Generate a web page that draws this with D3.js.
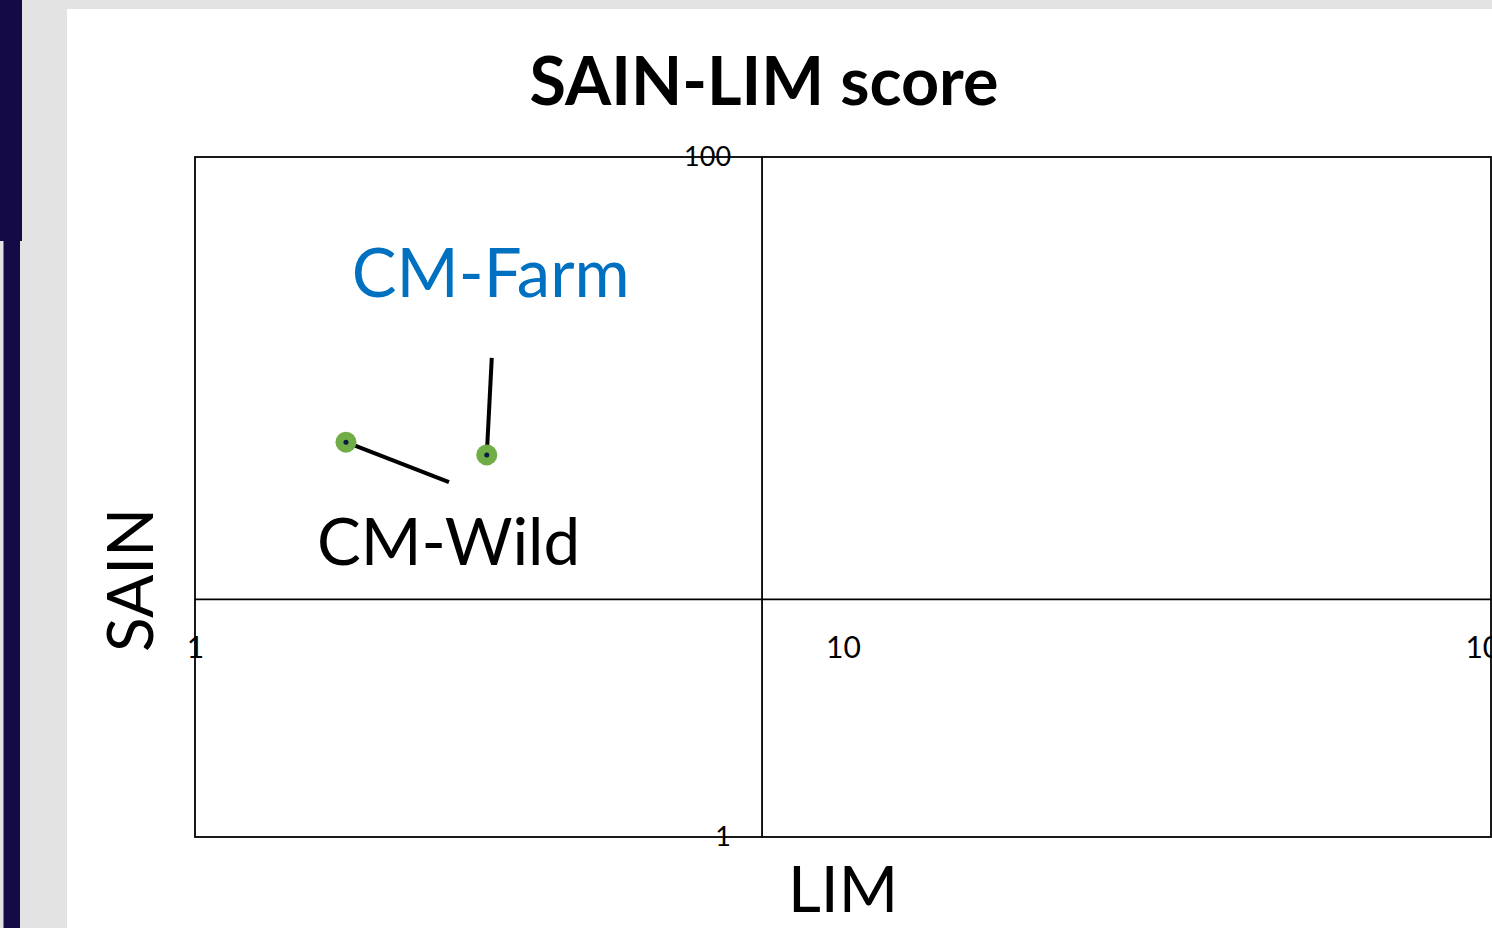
<!DOCTYPE html>
<html>
<head>
<meta charset="utf-8">
<script src="https://cdn.jsdelivr.net/npm/d3@7"></script>
<style>
  html, body { margin: 0; padding: 0; background: #e3e3e3; }
  svg { display: block; }
</style>
</head>
<body>
<svg class="chart"></svg>
<script>
const WIDTH = 1492;
const HEIGHT = 928;

// data
const products = ['CM-Wild', 'CM-Farm'];
const limValues = [1.71, 2.82];
const sainValues = [14.5, 13.3];
const labelColors = ['#000000', '#0070c0'];

const xTicks = [1, 10, 100];
const yTicks = [1, 100];
const limThreshold = 7.5;
const sainThreshold = 5;

const FONT = 'Lato, "Open Sans", sans-serif';
const POINT_COLOR = '#70ad47';

const svg = d3.select('.chart')
  .attr('width', WIDTH)
  .attr('height', HEIGHT);

// slide background pieces
svg.append('rect').attr('x', 0).attr('y', 0).attr('width', WIDTH).attr('height', HEIGHT).attr('fill', '#e3e3e3');
svg.append('rect').attr('x', 67).attr('y', 9).attr('width', WIDTH - 67).attr('height', HEIGHT - 9).attr('fill', '#ffffff');
svg.append('rect').attr('x', 0).attr('y', 0).attr('width', 22).attr('height', 241).attr('fill', '#140a45');
svg.append('rect').attr('x', 3.5).attr('y', 241).attr('width', 16.5).attr('height', HEIGHT - 241).attr('fill', '#140a45');

const plot = { left: 195, right: 1491, top: 157, bottom: 837 };

const x = d3.scaleLog().domain([1, 100]).range([plot.left, plot.right]);
const y = d3.scaleLog().domain([1, 100]).range([plot.bottom, plot.top]);

const g = svg.append('g');

// frame
g.append('rect')
  .attr('x', plot.left)
  .attr('y', plot.top)
  .attr('width', plot.right - plot.left)
  .attr('height', plot.bottom - plot.top)
  .attr('fill', 'none')
  .attr('stroke', '#000')
  .attr('stroke-width', 1.8);

// threshold axes
g.append('line')
  .attr('x1', x(limThreshold)).attr('x2', x(limThreshold))
  .attr('y1', plot.top).attr('y2', plot.bottom)
  .attr('stroke', '#000').attr('stroke-width', 1.8);

g.append('line')
  .attr('x1', plot.left).attr('x2', plot.right)
  .attr('y1', y(sainThreshold)).attr('y2', y(sainThreshold))
  .attr('stroke', '#000').attr('stroke-width', 1.8);

// x tick labels
const xAxis = d3.axisBottom(x).tickValues(xTicks).tickSize(0).tickFormat(d3.format('d'));
const xg = g.append('g')
  .attr('transform', `translate(0,${y(sainThreshold) + 34})`)
  .call(xAxis);
xg.select('.domain').remove();
xg.selectAll('text')
  .attr('font-family', FONT)
  .attr('font-size', 30)
  .attr('fill', '#000');

// y tick labels
const yAxis = d3.axisLeft(y).tickValues(yTicks).tickSize(0).tickFormat(d3.format('d'));
const yg = g.append('g')
  .attr('transform', `translate(${x(limThreshold) - 28},0)`)
  .call(yAxis);
yg.select('.domain').remove();
yg.selectAll('text')
  .attr('font-family', FONT)
  .attr('font-size', 27)
  .attr('fill', '#000');

// leader lines and labels
const labelOffsets = [[103, 40], [5, -97]];
const textOffsets = [[-29, 123], [4, -158]];

g.selectAll('.leader')
  .data(products)
  .enter()
  .append('line')
  .attr('class', 'leader')
  .attr('x1', (d, i) => x(limValues[i]))
  .attr('y1', (d, i) => y(sainValues[i]))
  .attr('x2', (d, i) => x(limValues[i]) + labelOffsets[i][0])
  .attr('y2', (d, i) => y(sainValues[i]) + labelOffsets[i][1])
  .attr('stroke', '#000')
  .attr('stroke-width', 4);

g.selectAll('.point')
  .data(products)
  .enter()
  .append('circle')
  .attr('class', 'point')
  .attr('cx', (d, i) => x(limValues[i]))
  .attr('cy', (d, i) => y(sainValues[i]))
  .attr('r', 10.5)
  .attr('fill', POINT_COLOR);

g.selectAll('.leader-top')
  .data(products)
  .enter()
  .append('circle')
  .attr('cx', (d, i) => x(limValues[i]))
  .attr('cy', (d, i) => y(sainValues[i]))
  .attr('r', 2.5)
  .attr('fill', '#0a1a40');

g.selectAll('.label')
  .data(products)
  .enter()
  .append('text')
  .attr('class', 'label')
  .attr('x', (d, i) => x(limValues[i]) + textOffsets[i][0])
  .attr('y', (d, i) => y(sainValues[i]) + textOffsets[i][1])
  .attr('text-anchor', (d, i) => (i === 0 ? 'start' : 'middle'))
  .attr('font-family', FONT)
  .attr('font-size', (d, i) => (i === 0 ? 65.5 : 67))
  .attr('fill', (d, i) => labelColors[i])
  .text((d) => d);

// title and axis titles
svg.append('text')
  .attr('x', 764)
  .attr('y', 105)
  .attr('text-anchor', 'middle')
  .attr('font-family', FONT)
  .attr('font-weight', 'bold')
  .attr('font-size', 66.5)
  .text('SAIN-LIM score');

svg.append('text')
  .attr('x', 843)
  .attr('y', 912)
  .attr('text-anchor', 'middle')
  .attr('font-family', FONT)
  .attr('font-size', 64)
  .text('LIM');

svg.append('text')
  .attr('transform', 'translate(153,580) rotate(-90)')
  .attr('text-anchor', 'middle')
  .attr('font-family', FONT)
  .attr('font-size', 64)
  .text('SAIN');
</script>
</body>
</html>
